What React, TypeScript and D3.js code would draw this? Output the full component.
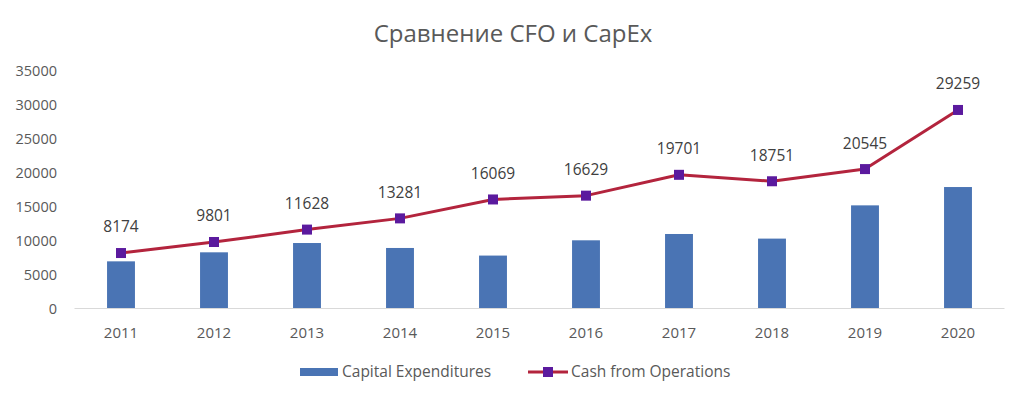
import React, { useRef, useEffect } from "react";
import * as d3 from "d3";

const years = ["2011", "2012", "2013", "2014", "2015", "2016", "2017", "2018", "2019", "2020"];
const capex = [6950, 8280, 9650, 8920, 7800, 10050, 10980, 10300, 15200, 17900];
const cfo = [8174, 9801, 11628, 13281, 16069, 16629, 19701, 18751, 20545, 29259];
const yTicks = [0, 5000, 10000, 15000, 20000, 25000, 30000, 35000];

const W = 1024;
const H = 398;
const FONT = "'Open Sans', 'Noto Sans', sans-serif";

function App() {
  const svgRef = useRef<SVGSVGElement>(null);

  useEffect(() => {
    const svg = d3.select(svgRef.current);
    svg.selectAll("*").remove();

    const x = d3.scaleBand().domain(years).range([74.5, 1004.5]).paddingInner(0.7).paddingOuter(0.35);
    const y = d3.scaleLinear().domain([0, 35000]).range([308.5, 71]);

    // title
    svg.append("text")
      .attr("x", 513).attr("y", 42)
      .attr("text-anchor", "middle")
      .attr("font-family", FONT).attr("font-size", 24)
      .attr("fill", "#595959")
      .text("Сравнение CFO и CapEx");

    // y tick labels
    svg.append("g").selectAll("text")
      .data(yTicks)
      .join("text")
      .attr("x", 57).attr("y", (d) => y(d))
      .attr("dy", "0.35em")
      .attr("text-anchor", "end")
      .attr("font-family", FONT).attr("font-size", 14.5)
      .attr("fill", "#595959")
      .text((d) => d);

    // bars
    svg.append("g").selectAll("rect")
      .data(capex)
      .join("rect")
      .attr("x", (d, i) => x(years[i])!)
      .attr("y", (d) => y(d))
      .attr("width", x.bandwidth())
      .attr("height", (d) => y(0) - y(d))
      .attr("fill", "#4A74B4");

    // x axis line
    svg.append("line")
      .attr("x1", 74.5).attr("x2", 1004.5)
      .attr("y1", y(0)).attr("y2", y(0))
      .attr("stroke", "#d9d9d9").attr("stroke-width", 1);

    // x labels
    svg.append("g").selectAll("text")
      .data(years)
      .join("text")
      .attr("x", (d) => x(d)! + x.bandwidth() / 2)
      .attr("y", 333)
      .attr("dy", "0.35em")
      .attr("text-anchor", "middle")
      .attr("font-family", FONT).attr("font-size", 15)
      .attr("fill", "#595959")
      .text((d) => d);

    // line
    const cx = (i: number) => x(years[i])! + x.bandwidth() / 2;
    const ln = d3.line<number>().x((d, i) => cx(i)).y((d) => y(d));
    svg.append("path")
      .datum(cfo)
      .attr("d", ln)
      .attr("fill", "none")
      .attr("stroke", "#B3243D")
      .attr("stroke-width", 3)
      .attr("stroke-linejoin", "round");

    svg.append("g").selectAll("rect")
      .data(cfo)
      .join("rect")
      .attr("x", (d, i) => cx(i) - 5)
      .attr("y", (d) => y(d) - 5)
      .attr("width", 10).attr("height", 10)
      .attr("fill", "#5B1A9E");

    svg.append("g").selectAll("text")
      .data(cfo)
      .join("text")
      .attr("x", (d, i) => cx(i))
      .attr("y", (d) => y(d) - 26)
      .attr("dy", "0.35em")
      .attr("text-anchor", "middle")
      .attr("font-family", FONT).attr("font-size", 15.5)
      .attr("fill", "#404040")
      .text((d) => d);

    // legend
    const lg = svg.append("g").attr("transform", "translate(0,372)");
    lg.append("rect").attr("x", 300).attr("y", -4).attr("width", 38).attr("height", 8).attr("fill", "#4A74B4");
    lg.append("text").attr("x", 342).attr("y", 0).attr("dy", "0.35em")
      .attr("font-family", FONT).attr("font-size", 15.5).attr("fill", "#595959")
      .text("Capital Expenditures");
    lg.append("line").attr("x1", 528).attr("x2", 568).attr("y1", 0).attr("y2", 0)
      .attr("stroke", "#B3243D").attr("stroke-width", 3);
    lg.append("rect").attr("x", 543).attr("y", -5).attr("width", 10).attr("height", 10).attr("fill", "#5B1A9E");
    lg.append("text").attr("x", 571).attr("y", 0).attr("dy", "0.35em")
      .attr("font-family", FONT).attr("font-size", 15.5).attr("fill", "#595959")
      .text("Cash from Operations");
  }, []);

  return (
    <svg ref={svgRef} width={W} height={H} style={{ position: "absolute", left: 0, top: 0, background: "#fff" }} />
  );
}

export default App;
